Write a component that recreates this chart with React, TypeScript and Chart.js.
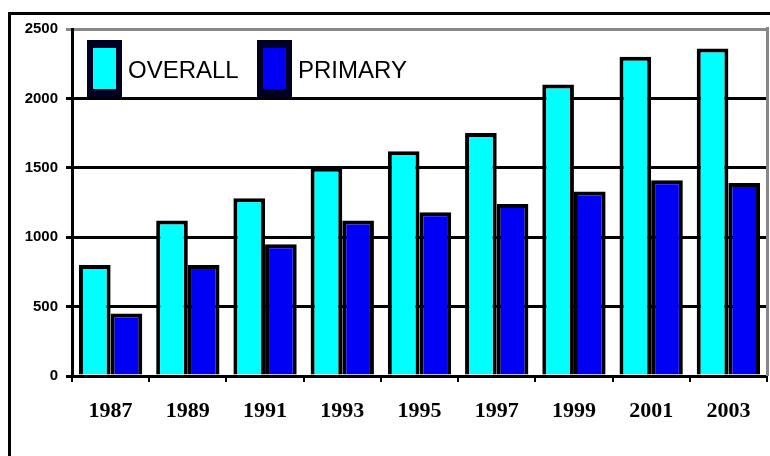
import React, { useEffect, useRef } from "react";
import { Chart, registerables } from "chart.js";

Chart.register(...registerables);

const years = ["1987", "1989", "1991", "1993", "1995", "1997", "1999", "2001", "2003"];
const overall = [800, 1120, 1280, 1500, 1620, 1750, 2100, 2300, 2360];
const primary = [450, 800, 950, 1120, 1180, 1240, 1330, 1410, 1390];
const yTickValues = [0, 500, 1000, 1500, 2000, 2500];
const seriesNames = ["OVERALL", "PRIMARY"];
const seriesColors = ["#00FFFF", "#0000F5"];

const decorPlugin = {
  id: "decor",
  beforeDraw(chart: any) {
    const { ctx, width, height } = chart;
    ctx.save();
    ctx.fillStyle = "#ffffff";
    ctx.fillRect(0, 0, width, height);
    ctx.restore();
  },
  afterDatasetsDraw(chart: any) {
    const { ctx, chartArea } = chart;
    ctx.save();
    const boxW = 35;
    const boxH = 57;
    const by = chartArea.top + 11;
    const offsets = [15, 185];
    seriesNames.forEach((name, i) => {
      const bx = chartArea.left + offsets[i];
      ctx.fillStyle = "#000022";
      ctx.fillRect(bx, by, boxW, boxH);
      ctx.fillStyle = seriesColors[i];
      ctx.fillRect(bx + 6, by + 8, boxW - 12, boxH - 16);
      ctx.fillStyle = "#000000";
      ctx.font = "24px 'Liberation Sans', Arial, sans-serif";
      ctx.textBaseline = "middle";
      ctx.textAlign = "left";
      ctx.fillText(name, bx + boxW + 6, by + 31);
    });
    ctx.restore();
  },
  afterDraw(chart: any) {
    const { ctx, chartArea, width, height } = chart;
    ctx.save();
    ctx.fillStyle = "#000000";
    ctx.fillRect(8, 12, width - 8, 3);
    ctx.fillRect(8, 12, 3, height - 12);
    ctx.fillStyle = "#888888";
    ctx.fillRect(chartArea.right - 1, chartArea.top - 2, 3, chartArea.bottom - chartArea.top + 2);
    ctx.restore();
  },
};

export default function App() {
  const canvasRef = useRef<HTMLCanvasElement | null>(null);

  useEffect(() => {
    if (!canvasRef.current) return;
    const chart = new Chart(canvasRef.current, {
      type: "bar",
      data: {
        labels: years,
        datasets: [
          {
            label: seriesNames[0],
            data: overall,
            backgroundColor: seriesColors[0],
            borderColor: "#000000",
            borderWidth: 4,
            barPercentage: 1.0,
            categoryPercentage: 0.82,
          },
          {
            label: seriesNames[1],
            data: primary,
            backgroundColor: seriesColors[1],
            borderColor: "#000000",
            borderWidth: 4,
            barPercentage: 1.0,
            categoryPercentage: 0.82,
          },
        ],
      },
      options: {
        responsive: false,
        animation: false,
        devicePixelRatio: 1,
        layout: { padding: { left: 0, top: 29, right: 3, bottom: 0 } },
        plugins: {
          legend: { display: false },
          tooltip: { enabled: false },
        },
        scales: {
          x: {
            offset: true,
            grid: {
              offset: true,
              drawOnChartArea: false,
              drawTicks: true,
              tickLength: 6,
              color: "#000000",
              lineWidth: 2,
            },
            border: { display: true, color: "#000000", width: 3 },
            ticks: {
              color: "#000000",
              padding: 16,
              font: { family: "'Liberation Serif', 'Times New Roman', serif", size: 22, weight: "bold" },
            },
            afterFit(scale: any) {
              scale.height = 80;
            },
          },
          y: {
            min: 0,
            max: 2500,
            afterBuildTicks(scale: any) {
              scale.ticks = yTickValues.map((v) => ({ value: v }));
            },
            grid: {
              color: (c: any) => (c.tick && c.tick.value === 2500 ? "#888888" : "#000000"),
              lineWidth: 3,
              tickLength: 6,
              drawTicks: true,
            },
            border: { display: true, color: "#000000", width: 3 },
            ticks: {
              color: "#000000",
              padding: 8,
              font: { family: "'Liberation Sans', Arial, sans-serif", size: 15, weight: "bold" },
              callback: (v: any) => String(v),
            },
            afterFit(scale: any) {
              scale.width = 72;
            },
          },
        },
      },
      plugins: [decorPlugin],
    });
    return () => chart.destroy();
  }, []);

  return (
    <div style={{ position: "absolute", left: 0, top: 0, width: 770, height: 456 }}>
      <canvas ref={canvasRef} width={770} height={456} style={{ display: "block" }} />
    </div>
  );
}
